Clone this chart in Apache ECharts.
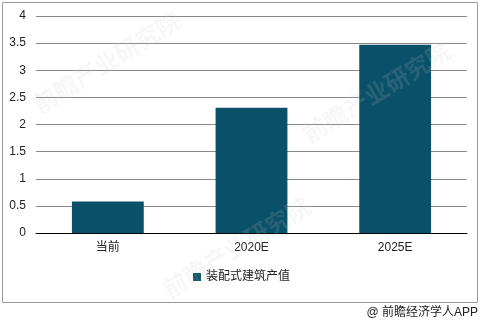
<!DOCTYPE html>
<html><head><meta charset="utf-8">
<script src="https://cdn.jsdelivr.net/npm/echarts@6/dist/echarts.min.js"></script>
<style>html,body{margin:0;padding:0;background:#fff}#c{width:483px;height:327px}</style>
</head><body><div id="c"></div>
<script>
const categories = ['当前', '2020E', '2025E'];
const values = [0.58, 2.31, 3.47];
const seriesName = '装配式建筑产值';
const yTicks = { min: 0, max: 4, interval: 0.5 };

const chart = echarts.init(document.getElementById('c'));
const font = '"Liberation Sans", Arial, "Noto Sans CJK SC", sans-serif';
const wm = (left, top) => ({ type: 'text', left, top, rotation: 0.55, silent: true, z: 100,
  style: { text: '前瞻产业研究院', fontSize: 24, fontWeight: 'bold', fill: 'rgba(200,200,200,0.15)', fontFamily: font } });
chart.setOption({
  animation: false,
  backgroundColor: '#fff',
  textStyle: { fontFamily: font },
  grid: { left: 36, right: 16, top: 16, bottom: 94 },
  legend: {
    data: [seriesName], bottom: 39, left: 'center',
    icon: 'rect', itemWidth: 8, itemHeight: 8, itemGap: 6,
    textStyle: { fontSize: 12, color: '#222', fontFamily: font }
  },
  xAxis: {
    type: 'category', data: categories,
    axisLine: { lineStyle: { color: '#000', width: 1 } },
    axisTick: { show: false },
    axisLabel: { color: '#222', fontSize: 12, margin: 9 }
  },
  yAxis: {
    type: 'value', min: yTicks.min, max: yTicks.max, interval: yTicks.interval,
    axisLine: { show: false }, axisTick: { show: false },
    splitLine: { lineStyle: { color: '#8a8a8a', width: 1 } },
    axisLabel: { color: '#222', fontSize: 12, margin: 10 }
  },
  series: [{
    name: seriesName, type: 'bar', data: values, barWidth: '50%',
    itemStyle: { color: '#0b5069' }
  }],
  graphic: [
    { type: 'rect', shape: { x: 2.5, y: 2.5, width: 475, height: 300 }, style: { fill: 'none', stroke: '#9a9a9a', lineWidth: 1 }, silent: true, z: -1 },
    { type: 'text', right: 5, top: 307, style: { text: '@ 前瞻经济学人APP', fontSize: 12, fill: '#222', fontFamily: font } },
    wm(30, 10), wm(160, 195), wm(300, 40)
  ]
});
</script></body></html>
